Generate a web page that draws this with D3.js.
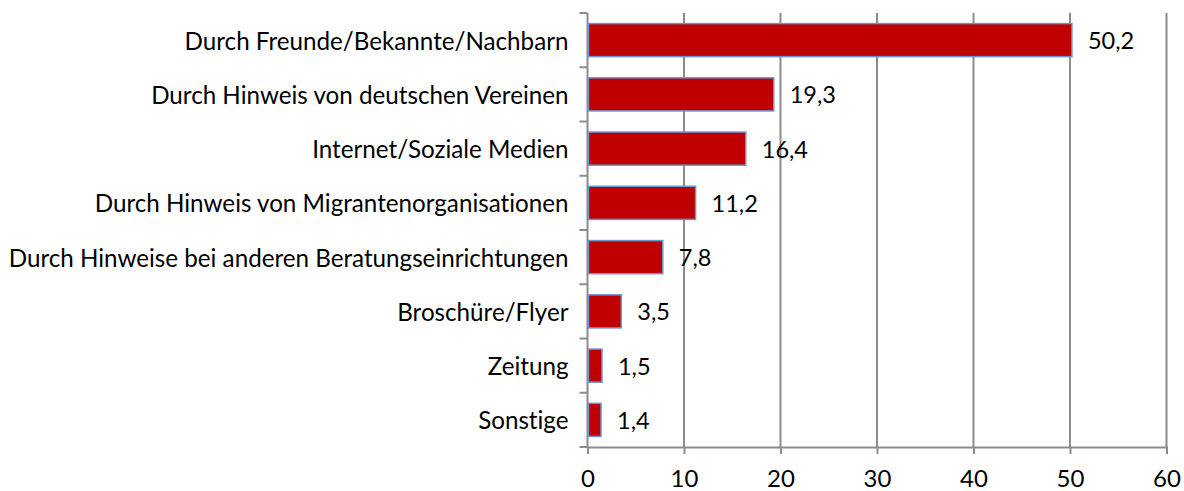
<!DOCTYPE html>
<html>
<head>
<meta charset="utf-8">
<script src="https://cdn.jsdelivr.net/npm/d3@7"></script>
<style>
  html, body { margin: 0; padding: 0; background: #fff; }
  svg { display: block; }
  text { font-family: Lato, "Open Sans", sans-serif; fill: #000; font-variant-ligatures: none; }
</style>
</head>
<body>
<svg id="chart" width="1184" height="491"></svg>
<script>
// Wie sind Sie auf uns aufmerksam geworden? (Angaben in %)
const categories = [
  "Durch Freunde/Bekannte/Nachbarn",
  "Durch Hinweis von deutschen Vereinen",
  "Internet/Soziale Medien",
  "Durch Hinweis von Migrantenorganisationen",
  "Durch Hinweise bei anderen Beratungseinrichtungen",
  "Broschüre/Flyer",
  "Zeitung",
  "Sonstige"
];
const values = [50.2, 19.3, 16.4, 11.2, 7.8, 3.5, 1.5, 1.4];
const xTicks = [0, 10, 20, 30, 40, 50, 60];

const svg = d3.select("#chart");
const margin = { left: 587.5, right: 17.5, top: 13, bottom: 44 };
const W = 1184, H = 491;

const x = d3.scaleLinear().domain([0, 60]).range([margin.left, W - margin.right]);
const y = d3.scaleBand().domain(categories).range([margin.top, H - margin.bottom])
  .paddingInner(0.39).paddingOuter(0.195);

const fmt = v => d3.format(".1f")(v).replace(".", ",");
const gridColor = "#8c8c8c";

// vertical gridlines
svg.append("g").selectAll("line").data(xTicks.slice(1)).join("line")
  .attr("x1", d => x(d)).attr("x2", d => x(d))
  .attr("y1", margin.top).attr("y2", H - margin.bottom)
  .attr("stroke", gridColor).attr("stroke-width", 2);

// bottom axis
const xAxis = svg.append("g")
  .attr("transform", `translate(0,${H - margin.bottom})`)
  .call(d3.axisBottom(x).tickValues(xTicks).tickSize(7).tickPadding(16).tickFormat(d => d));
xAxis.select(".domain").attr("stroke", gridColor).attr("stroke-width", 2);
xAxis.selectAll(".tick line").attr("stroke", gridColor).attr("stroke-width", 2);
xAxis.selectAll(".tick text").attr("font-size", 24).attr("font-family", "Lato, sans-serif").attr("fill", "#000");

// left category axis with ticks between categories
const leftG = svg.append("g");
leftG.append("line")
  .attr("x1", x(0)).attr("x2", x(0))
  .attr("y1", margin.top).attr("y2", H - margin.bottom)
  .attr("stroke", gridColor).attr("stroke-width", 2);
leftG.selectAll("line.tk").data(d3.range(categories.length + 1)).join("line")
  .attr("class", "tk")
  .attr("x1", x(0) - 8).attr("x2", x(0))
  .attr("y1", i => margin.top + i * y.step())
  .attr("y2", i => margin.top + i * y.step())
  .attr("stroke", gridColor).attr("stroke-width", 2);

leftG.selectAll("text").data(categories).join("text")
  .attr("x", x(0) - 19)
  .attr("y", d => y(d) + y.bandwidth() / 2)
  .attr("text-anchor", "end")
  .attr("dominant-baseline", "central")
  .attr("font-size", 24.2)
  .text(d => d);

// bars
const data = categories.map((c, i) => ({ c, v: values[i] }));
svg.append("g").selectAll("rect").data(data).join("rect")
  .attr("x", x(0) + 1)
  .attr("y", d => y(d.c))
  .attr("width", d => x(d.v) - x(0) - 1)
  .attr("height", y.bandwidth())
  .attr("fill", "#c00000")
  .attr("stroke", "#6a95cf")
  .attr("stroke-width", 1.5);

// value labels
svg.append("g").selectAll("text").data(data).join("text")
  .attr("x", d => x(d.v) + 16)
  .attr("y", d => y(d.c) + y.bandwidth() / 2)
  .attr("dominant-baseline", "central")
  .attr("font-size", 23.5)
  .text(d => fmt(d.v));
</script>
</body>
</html>
